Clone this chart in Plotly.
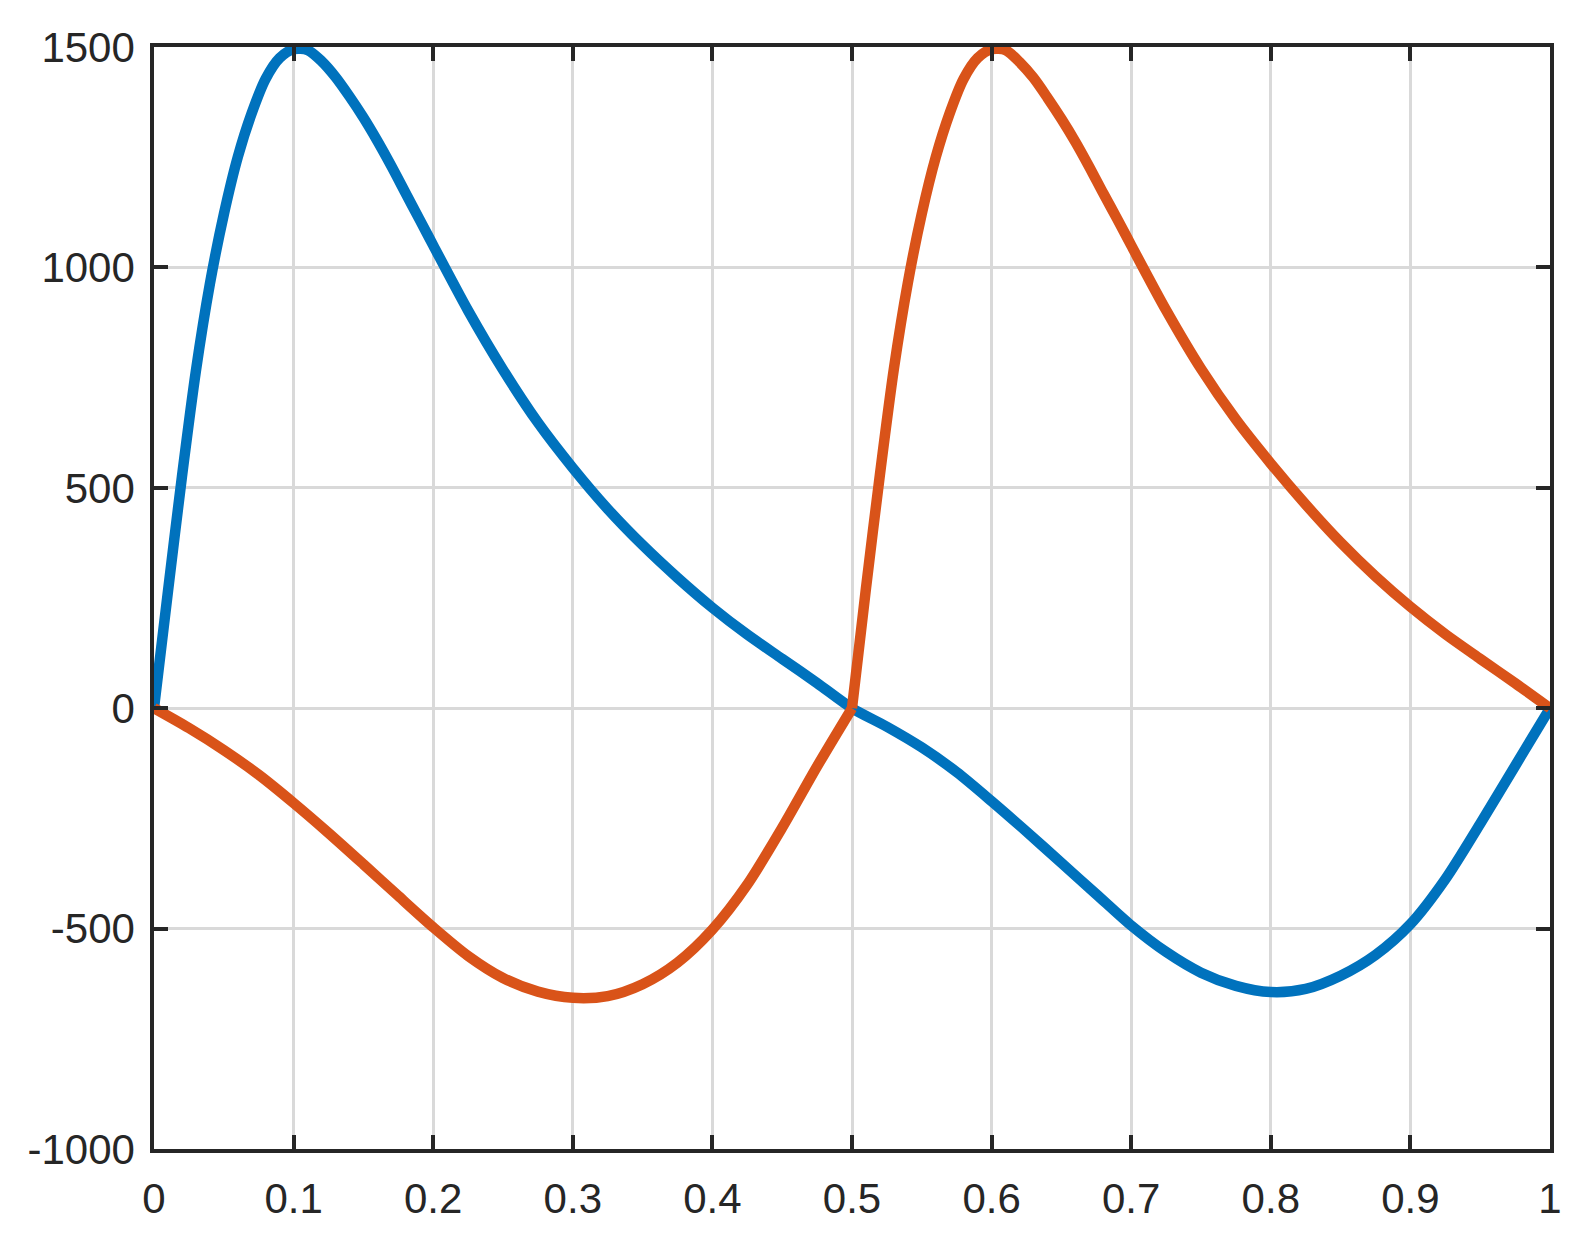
import plotly.graph_objects as go

# values
blue_x = [0, 0.01, 0.02, 0.03, 0.04, 0.05, 0.06, 0.07, 0.08, 0.09, 0.10, 0.11,
          0.12, 0.13, 0.14, 0.15, 0.16, 0.17, 0.18, 0.19, 0.20, 0.225, 0.25, 0.275,
          0.30, 0.325, 0.35, 0.375, 0.40, 0.425, 0.45, 0.475, 0.50, 0.525, 0.55,
          0.575, 0.60, 0.625, 0.65, 0.675, 0.70, 0.725, 0.75, 0.775, 0.80,
          0.825, 0.85, 0.875, 0.90, 0.925, 0.95, 0.975, 1.0]
blue_y = [0, 265, 525, 765, 962, 1120, 1250, 1350, 1428, 1475, 1495, 1493,
          1468, 1432, 1388, 1340, 1287, 1230, 1170, 1110, 1050, 902, 768, 648,
          545, 452, 370, 296, 228, 167, 112, 57, 0, -42, -89,
          -145, -211, -280, -351, -422, -493, -553, -600, -630, -644,
          -637, -607, -560, -490, -388, -262, -131, 0]

orange_x = [0, 0.025, 0.05, 0.075, 0.1, 0.125, 0.15, 0.175, 0.2, 0.225, 0.25, 0.275,
            0.3, 0.325, 0.35, 0.375, 0.4, 0.425, 0.45, 0.475, 0.5, 0.51, 0.52,
            0.53, 0.54, 0.55, 0.56, 0.57, 0.58, 0.59, 0.60, 0.61, 0.62, 0.63,
            0.64, 0.65, 0.66, 0.67, 0.68, 0.69, 0.70, 0.725, 0.75, 0.775, 0.8, 0.825,
            0.85, 0.875, 0.9, 0.925, 0.95, 0.975, 1.0]
orange_y = [0, -45, -95, -151, -215, -283, -354, -426, -497, -562, -612, -643,
            -657, -653, -626, -577, -502, -400, -271, -132, 0, 272, 530,
            770, 965, 1122, 1250, 1350, 1428, 1475, 1495, 1493, 1466, 1430,
            1385, 1337, 1285, 1228, 1168, 1110, 1050, 903, 770, 655, 555, 462,
            376, 299, 230, 168, 112, 57, 0]

x_ticks = [0, 0.1, 0.2, 0.3, 0.4, 0.5, 0.6, 0.7, 0.8, 0.9, 1]
x_labels = ['0', '0.1', '0.2', '0.3', '0.4', '0.5', '0.6', '0.7', '0.8', '0.9', '1']
y_ticks = [-1000, -500, 0, 500, 1000, 1500]
y_labels = ['-1000', '-500', '0', '500', '1000', '1500']

blue = '#0072BD'
orange = '#D95319'
line_w = 10.5

# the orange curve has a sharp corner at x = 0.5, so draw it as two smooth pieces
k = orange_x.index(0.5)

fig = go.Figure()
fig.add_trace(go.Scatter(x=blue_x, y=blue_y, mode='lines',
                         line=dict(color=blue, width=line_w, shape='spline', smoothing=0.8)))
fig.add_trace(go.Scatter(x=orange_x[:k + 1], y=orange_y[:k + 1], mode='lines',
                         line=dict(color=orange, width=line_w, shape='spline', smoothing=0.8)))
fig.add_trace(go.Scatter(x=orange_x[k:], y=orange_y[k:], mode='lines',
                         line=dict(color=orange, width=line_w, shape='spline', smoothing=0.8)))

axis_style = dict(showline=True, linecolor='#262626', linewidth=3.5, mirror='ticks',
                  ticks='inside', ticklen=14, tickwidth=3.5, tickcolor='#262626',
                  showgrid=True, gridcolor='#d9d9d9', gridwidth=2.5, zeroline=False,
                  automargin=False,
                  tickfont=dict(family='Liberation Sans, Arial, sans-serif', size=42,
                                color='#262626'))

fig.update_xaxes(range=[0, 1], tickvals=x_ticks, ticktext=x_labels,
                 ticklabelstandoff=10, **axis_style)
fig.update_yaxes(range=[-1000, 1500], tickvals=y_ticks, ticktext=y_labels,
                 ticklabelstandoff=7, **axis_style)
# page body has an 8px margin, so the figure is 8px smaller than the window
fig.update_layout(width=1573, height=1229, showlegend=False,
                  plot_bgcolor='white', paper_bgcolor='white',
                  margin=dict(l=146, r=31, t=39, b=88))

fig.write_html("out.html")
